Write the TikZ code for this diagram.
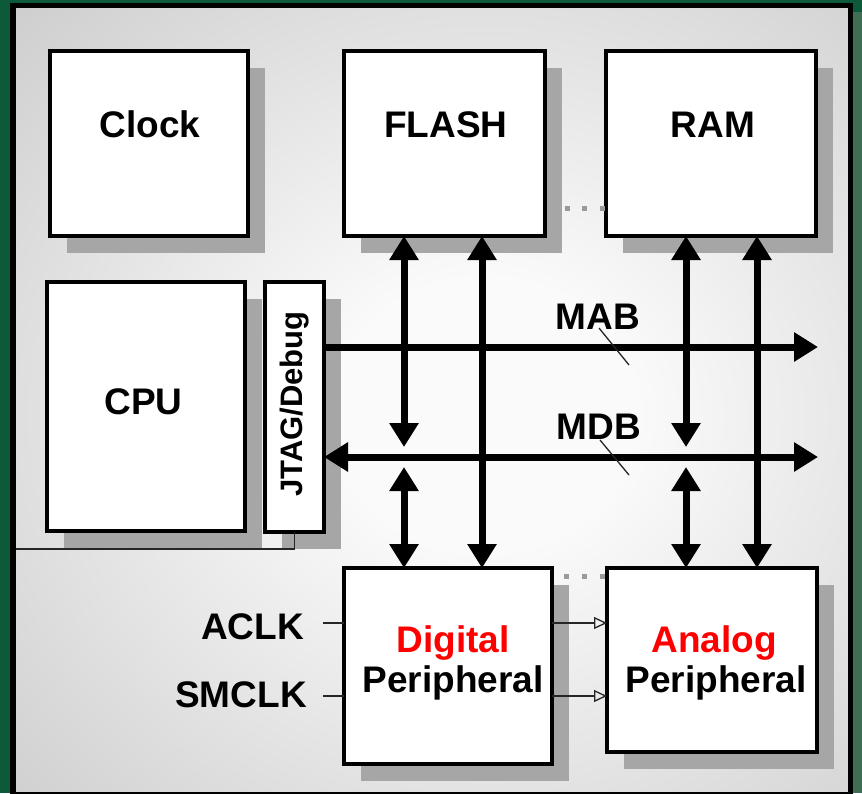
\documentclass[tikz,border=0pt]{standalone}
\usepackage{fontspec}
\setmainfont{Liberation Sans}
\usetikzlibrary{arrows.meta,calc}
\definecolor{bggreen}{HTML}{0D5A3A}
\definecolor{bggreenR}{HTML}{3E6E54}
\definecolor{shadowgray}{HTML}{A6A6A6}
\definecolor{panelC}{HTML}{FAFAFA}
\definecolor{panelE}{HTML}{C2C2C2}
\definecolor{dotgray}{HTML}{9A9A9A}
\definecolor{labelred}{HTML}{FF0000}
\pgfdeclareradialshading{panelshade}{\pgfpoint{0bp}{0bp}}{color(0bp)=(panelC); color(8bp)=(panelC); color(42bp)=(panelE); color(80bp)=(panelE)}
\tikzset{
  box/.style={draw, line width=4pt, fill=white, inner sep=0pt, outer sep=0pt,
    preaction={draw=none, fill=shadowgray, transform canvas={shift={(17,17)}}}},
  lbl/.style={font=\fontsize{37pt}{40pt}\selectfont\bfseries, inner sep=0pt, anchor=base},
  bus/.style={line width=7pt},
  thinline/.style={line width=1.3pt, black!85},
  sig/.style={line width=1.3pt, black!85, -{Triangle[open, length=13pt, width=12pt]}},
  dots/.style={dotgray, line width=5pt},
  >={Triangle[length=24pt,width=28pt]}
}
\begin{document}
\begin{tikzpicture}[x=1pt,y=-1pt]
\useasboundingbox (0,0) rectangle (862,793);
\clip (0,0) rectangle (862,793);
% outside
\fill[bggreen] (0,0) rectangle (862,793);
\fill[bggreenR] (853,12) rectangle (862,793);
% panel
\begin{scope}
  \clip (13,5.5) rectangle (850.5,794.5);
  \shade[shading=panelshade] (10,-10) rectangle (960,840);
\end{scope}
\draw[line width=5.5pt] (13,5.5) rectangle (850.5,794.5);

% boxes
\node[box, minimum width=198pt, minimum height=185pt] (clock) at (149,143.5) {};
\node[box, minimum width=201pt, minimum height=185pt] (flash) at (444.5,143.5) {};
\node[box, minimum width=210pt, minimum height=185pt] (ram) at (711,143.5) {};
\node[box, minimum width=198pt, minimum height=249pt] (cpu) at (146,406.5) {};
\node[box, minimum width=59pt, minimum height=250pt] (jtag) at (294.5,407) {};
\node[box, minimum width=208pt, minimum height=196pt] (digital) at (448,666) {};
\node[box, minimum width=210pt, minimum height=184pt] (analog) at (712,660) {};

% labels in boxes
\node[lbl] (clockt) at (150,137) {Clock};
\node[lbl] (flasht) at (446,137) {FLASH};
\node[lbl] (ramt) at (713,137) {RAM};
\node[lbl] (cput) at (143.5,414) {CPU};
\node[font=\fontsize{31pt}{34pt}\selectfont\bfseries, inner sep=0pt, anchor=base, rotate=90] (jtagt) at (302,404) {JTAG/Debug};
\node[lbl, text=labelred] (digt1) at (453,652) {Digital};
\node[lbl] (digt2) at (453,692) {Peripheral};
\node[lbl, text=labelred] (anat1) at (714,652) {Analog};
\node[lbl] (anat2) at (716,692) {Peripheral};

% dotted gaps
\coordinate (dotA1) at (564.5,208);
\coordinate (dotA2) at (604.5,208);
\draw[dots, dash pattern=on 5pt off 12.5pt] (dotA1) -- (dotA2);
\coordinate (dotB1) at (563.5,576);
\coordinate (dotB2) at (604.5,576);
\draw[dots, dash pattern=on 5pt off 13pt] (dotB1) -- (dotB2);

% buses
\coordinate (mabrow) at (0,347);
\coordinate (mdbrow) at (0,457);
\coordinate (busend) at (818,0);
\coordinate (mdbtop) at (0,447);
\coordinate (mdbbot) at (0,467);
\coordinate (c1) at (404,0);
\coordinate (c2) at (482,0);
\coordinate (c3) at (686,0);
\coordinate (c4) at (757,0);
\draw[bus,->] (jtag.east |- mabrow) -- (busend |- mabrow);
\draw[bus,<->] (jtag.east |- mdbrow) -- (busend |- mdbrow);
\draw[bus,<->] (c1 |- flash.south) -- (c1 |- mdbtop);
\draw[bus,<->] (c1 |- mdbbot) -- (c1 |- digital.north);
\draw[bus,<->] (c2 |- flash.south) -- (c2 |- digital.north);
\draw[bus,<->] (c3 |- ram.south) -- (c3 |- mdbtop);
\draw[bus,<->] (c3 |- mdbbot) -- (c3 |- analog.north);
\draw[bus,<->] (c4 |- ram.south) -- (c4 |- analog.north);

% bus labels and slashes
\node[lbl] (mabt) at (598,329) {MAB};
\node[lbl] (mdbt) at (599,439) {MDB};
\coordinate (sA1) at (599,328);
\coordinate (sA2) at (629,365);
\coordinate (sB1) at (600,440);
\coordinate (sB2) at (629,475);
\draw[thinline] (sA1) -- (sA2);
\draw[thinline] (sB1) -- (sB2);

% JTAG line to the left edge
\coordinate (leftedge) at (16,549);
\draw[thinline] (jtag.south) |- (leftedge);

% clocks
\node[lbl, anchor=base east] (aclk) at (304,639) {ACLK};
\node[lbl, anchor=base east] (smclk) at (307,707) {SMCLK};
\coordinate (aclkin) at (323,623);
\coordinate (smclkin) at (323,696);
\draw[thinline] (aclkin) -- (aclkin -| digital.west);
\draw[thinline] (smclkin) -- (smclkin -| digital.west);
\draw[sig] (digital.east |- aclkin) -- (analog.west |- aclkin);
\draw[sig] (digital.east |- smclkin) -- (analog.west |- smclkin);
\end{tikzpicture}
\end{document}
